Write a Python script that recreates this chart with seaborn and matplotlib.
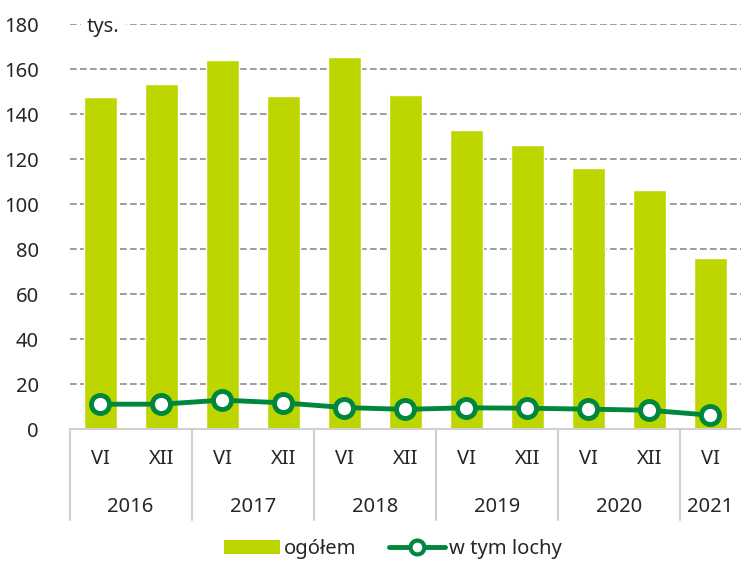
import numpy as np
import pandas as pd
import matplotlib
matplotlib.use('Agg')
import matplotlib.pyplot as plt
import matplotlib.transforms as mtransforms
from matplotlib.lines import Line2D
from matplotlib.patches import Patch
import seaborn as sns

# dane
okresy = ['VI', 'XII', 'VI', 'XII', 'VI', 'XII', 'VI', 'XII', 'VI', 'XII', 'VI']
lata = ['2016', '2016', '2017', '2017', '2018', '2018', '2019', '2019', '2020', '2020', '2021']
ogolem = [147.6, 153.3, 164.0, 148.0, 165.3, 148.4, 132.9, 126.2, 116.0, 106.2, 76.0]
lochy = [11.1, 11.1, 12.9, 11.7, 9.6, 8.8, 9.5, 9.3, 8.9, 8.4, 6.2]

kolor_bar = '#BED600'
kolor_line = '#00873E'
fs = 14.5

sns.set_style('white')
plt.rcParams['font.family'] = ['Noto Sans', 'DejaVu Sans']
plt.rcParams['font.size'] = fs

df = pd.DataFrame({'idx': np.arange(len(okresy)), 'okres': okresy, 'rok': lata,
                   'ogolem': ogolem, 'lochy': lochy})

fig = plt.figure(figsize=(7.41, 5.61), dpi=100)
ax = fig.add_axes([0.094, 0.235, 0.906, 0.722])

sns.barplot(data=df, x='idx', y='ogolem', color=kolor_bar, width=0.54,
            saturation=1, ax=ax, zorder=2)
sns.lineplot(data=df, x='idx', y='lochy', color=kolor_line, lw=3.5, marker='o',
             markersize=13, markerfacecolor='white', markeredgecolor=kolor_line,
             markeredgewidth=3.5, ax=ax, zorder=3)

ax.set_ylim(0, 180)
ax.set_xlim(-0.5, len(okresy) - 0.5)
ax.set_yticks(range(0, 181, 20))
ax.yaxis.grid(True, linestyle=(0, (4, 2)), color='#8c8c8c', lw=1.2, zorder=0)
ax.set_axisbelow(True)
for s in ['top', 'right', 'left']:
    ax.spines[s].set_visible(False)
ax.spines['bottom'].set_color('#d0d0d0')
ax.spines['bottom'].set_linewidth(1.5)
ax.tick_params(axis='y', length=0, pad=22, labelsize=fs)
ax.tick_params(axis='x', length=0, pad=14, labelsize=fs)
ax.set_xticks(range(len(okresy)))
ax.set_xticklabels(okresy)
ax.set_xlabel('')
ax.set_ylabel('')
ax.text(0.025, 180, 'tys.', transform=mtransforms.blended_transform_factory(ax.transAxes, ax.transData),
        ha='left', va='center_baseline', fontsize=fs, backgroundcolor='white', zorder=4)

# etykiety lat i linie podziału
trans = mtransforms.blended_transform_factory(ax.transData, ax.transAxes)
granice = [-0.5]
for i in range(1, len(lata)):
    if lata[i] != lata[i - 1]:
        granice.append(i - 0.5)
granice.append(len(lata) - 0.5)
for g in granice[:-1]:
    ax.plot([g, g], [0, -0.225], transform=trans, color='#d0d0d0', lw=1.5, clip_on=False)
for a, b in zip(granice[:-1], granice[1:]):
    rok = lata[int(a + 0.5)]
    ax.text((a + b) / 2, -0.193, rok, transform=trans, ha='center', va='center', fontsize=fs)

uchwyty = [Patch(facecolor=kolor_bar, edgecolor='none'),
           Line2D([], [], color=kolor_line, lw=3.5, marker='o', markersize=10,
                  markerfacecolor='white', markeredgewidth=3, markeredgecolor=kolor_line)]
fig.legend(uchwyty, ['ogółem', 'w tym lochy'], loc='center', bbox_to_anchor=(0.53, 0.022),
           ncol=2, frameon=False, fontsize=fs, handlelength=2.8, columnspacing=1.6,
           handletextpad=0.2)

fig.savefig('out.png', dpi=100)
